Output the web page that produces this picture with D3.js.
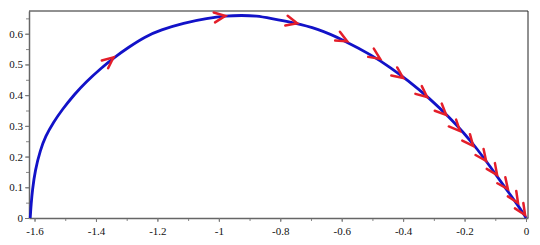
<!DOCTYPE html>
<meta charset="utf-8">
<style>
  body { margin: 0; background: #fff; }
  .curve { fill: none; stroke: #1212c8; stroke-width: 2.8px; }
  .arrow { fill: none; stroke: #e41e2a; stroke-width: 2.5px; stroke-linecap: round; }
</style>
<body>
<script src="https://d3js.org/d3.v7.min.js"></script>
<script>

// curve
var curveX = [-1.614, -1.613, -1.611, -1.607, -1.598, -1.581, -1.565, -1.538, -1.511, -1.468, -1.435,
              -1.381, -1.343, -1.294, -1.239, -1.190, -1.115, -1.037, -0.978, -0.926, -0.876,
              -0.833, -0.758, -0.680, -0.595, -0.498, -0.442, -0.387, -0.312, -0.247, -0.205,
              -0.159, -0.117, -0.075, -0.029, -0.002, 0];
var curveY = [0, 0.015, 0.045, 0.09, 0.156, 0.221, 0.265, 0.312, 0.352, 0.405, 0.441,
              0.490, 0.521, 0.556, 0.591, 0.612, 0.635, 0.650, 0.658, 0.660, 0.658,
              0.650, 0.636, 0.617, 0.580, 0.528, 0.490, 0.450, 0.388, 0.325, 0.280,
              0.225, 0.168, 0.108, 0.046, 0.004, 0];

// arrow tips along the curve
var arrowX = [-1.343, -0.979, -0.745, -0.582, -0.475, -0.400, -0.322, -0.260, -0.215,
              -0.172, -0.130, -0.094, -0.059, -0.026, -0.003];
var arrowY = [0.523, 0.658, 0.634, 0.575, 0.518, 0.456, 0.394, 0.336, 0.283,
              0.235, 0.186, 0.140, 0.094, 0.049, 0.010];

var xTicks = [-1.6, -1.4, -1.2, -1, -0.8, -0.6, -0.4, -0.2, 0];
var xTickLabels = ["-1.6", "-1.4", "-1.2", "-1", "-0.8", "-0.6", "-0.4", "-0.2", "0"];
var yTicks = [0, 0.1, 0.2, 0.3, 0.4, 0.5, 0.6];
var yTickLabels = ["0", "0.1", "0.2", "0.3", "0.4", "0.5", "0.6"];

var margin = {top: 11, right: 12, bottom: 27, left: 29},
    width = 540 - margin.left - margin.right,
    height = 245 - margin.top - margin.bottom;

var x = d3.scaleLinear().domain([-1.618, 0.0065]).range([0, width]);
var y = d3.scaleLinear().domain([0, 0.674]).range([height, 0]);

var svg = d3.select("body").append("svg")
    .attr("width", 540)
    .attr("height", 245)
  .append("g")
    .attr("transform", "translate(" + margin.left + "," + margin.top + ")");

var serif = "'Liberation Serif', 'DejaVu Serif', serif";

// minor ticks
var xMinor = d3.range(-16, 1).map(function(i) { return i / 10; });
var yMinor = d3.range(0, 14).map(function(i) { return i / 20; });

svg.append("g")
    .attr("transform", "translate(0," + height + ")")
    .call(d3.axisBottom(x).tickValues(xMinor).tickSize(3).tickFormat(""))
    .call(function(g) { g.select(".domain").remove(); g.selectAll("line").attr("stroke", "#888"); });
svg.append("g")
    .call(d3.axisLeft(y).tickValues(yMinor).tickSize(3).tickFormat(""))
    .call(function(g) { g.select(".domain").remove(); g.selectAll("line").attr("stroke", "#888"); });

// major axes
svg.append("g")
    .attr("transform", "translate(0," + height + ")")
    .call(d3.axisBottom(x).tickValues(xTicks).tickSize(4).tickSizeOuter(0)
      .tickFormat(function(d, i) { return xTickLabels[i]; }))
    .call(function(g) {
      g.attr("font-family", serif).attr("font-size", 11);
      g.select(".domain").attr("stroke", "#666").attr("stroke-width", 1.5);
      g.selectAll("line").attr("stroke", "#777");
      g.selectAll("text").attr("fill", "#111").attr("dy", "0.95em");
    });
svg.append("g")
    .call(d3.axisLeft(y).tickValues(yTicks).tickSize(4).tickSizeOuter(0)
      .tickFormat(function(d, i) { return yTickLabels[i]; }))
    .call(function(g) {
      g.attr("font-family", serif).attr("font-size", 11);
      g.select(".domain").attr("stroke", "#666").attr("stroke-width", 1.5);
      g.selectAll("line").attr("stroke", "#777");
      g.selectAll("text").attr("fill", "#111").attr("x", -6);
    });

// box top and right
svg.append("line").attr("x1", 0).attr("x2", width).attr("y1", 0).attr("y2", 0)
    .attr("stroke", "#222");
svg.append("line").attr("x1", width).attr("x2", width).attr("y1", 0).attr("y2", height)
    .attr("stroke", "#222");

var pts = curveX.map(function(d, i) { return [d, curveY[i]]; });

var line = d3.line()
    .x(function(d) { return x(d[0]); })
    .y(function(d) { return y(d[1]); })
    .curve(d3.curveBasis);

svg.append("path")
    .datum(pts)
    .attr("class", "curve")
    .attr("d", line);

// arrows, direction taken from the curve segment they sit on
arrowX.forEach(function(ax, k) {
  var i = 0;
  while (i < pts.length - 2 && pts[i + 1][0] < ax) i++;
  var dx = x(pts[i + 1][0]) - x(pts[i][0]);
  var dy = y(pts[i + 1][1]) - y(pts[i][1]);
  var ang = Math.atan2(dy, dx) * 180 / Math.PI;
  svg.append("path")
      .attr("class", "arrow")
      .attr("d", "M-11,-5L0,0L-11,5")
      .attr("transform", "translate(" + x(ax) + "," + y(arrowY[k]) + ") rotate(" + ang + ")");
});

</script>
</body>
